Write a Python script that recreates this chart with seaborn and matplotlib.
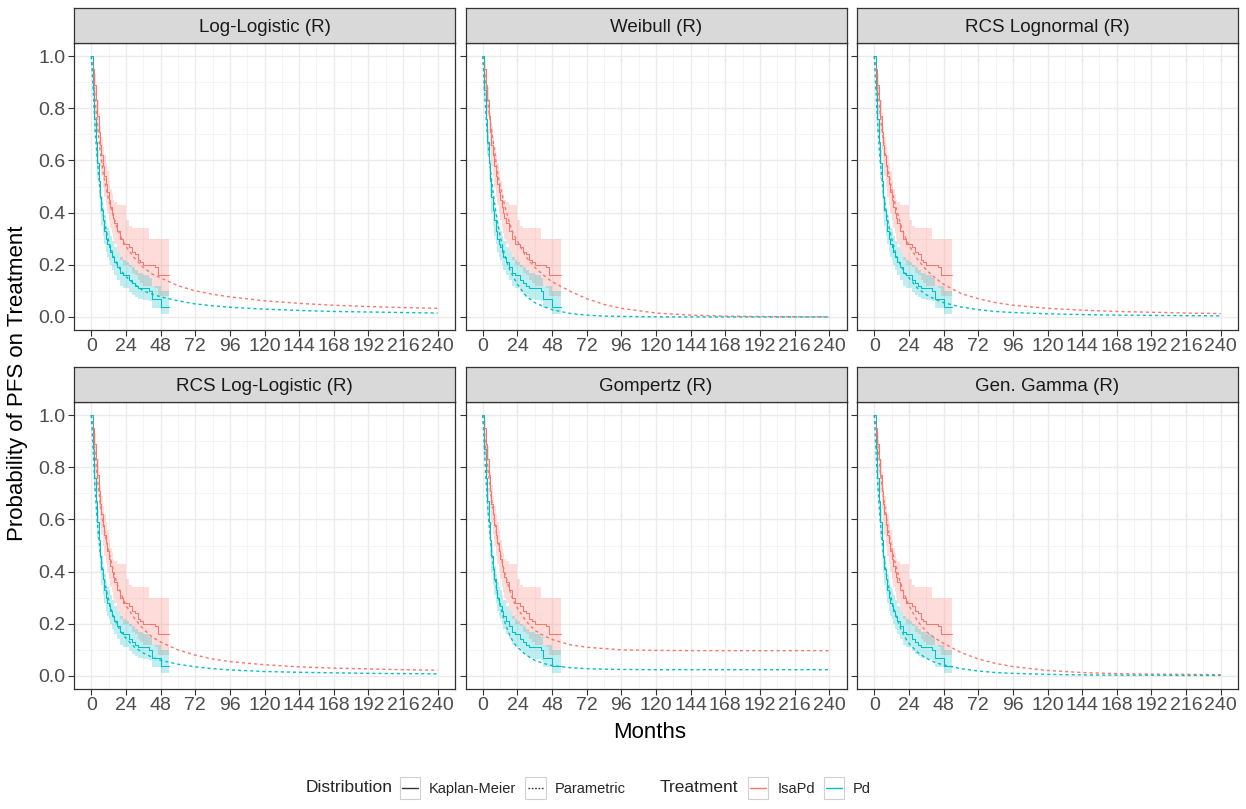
import numpy as np
import pandas as pd
import matplotlib
matplotlib.use("Agg")
import matplotlib.pyplot as plt
import seaborn as sns
from matplotlib.patches import Rectangle
from matplotlib.lines import Line2D
from matplotlib.legend_handler import HandlerBase

# ---------------- data ----------------
panel_titles = ["Log-Logistic (R)", "Weibull (R)", "RCS Lognormal (R)",
                "RCS Log-Logistic (R)", "Gompertz (R)", "Gen. Gamma (R)"]
treatments = ["IsaPd", "Pd"]
x_ticks = [0, 24, 48, 72, 96, 120, 144, 168, 192, 216, 240]
y_ticks = [0.0, 0.2, 0.4, 0.6, 0.8, 1.0]
y_tick_labels = ["0.0", "0.2", "0.4", "0.6", "0.8", "1.0"]

# Kaplan-Meier (same in every panel)
km_isapd_t = [0, 1, 2, 3, 4, 5, 6, 7, 8, 9, 10, 11, 12, 13, 14, 15, 16, 18, 20, 22,
              24, 26, 28, 30, 32, 34, 36, 40, 44, 46, 48, 54]
km_isapd_s = [1.00, 0.95, 0.89, 0.83, 0.77, 0.71, 0.66, 0.62, 0.58, 0.54, 0.51, 0.48, 0.45,
              0.42, 0.40, 0.38, 0.36, 0.33, 0.30, 0.28, 0.28, 0.27, 0.25, 0.24, 0.22, 0.21,
              0.20, 0.20, 0.19, 0.16, 0.16, 0.16]
km_isapd_lo = [1.00, 0.91, 0.84, 0.77, 0.70, 0.64, 0.58, 0.54, 0.50, 0.46, 0.43, 0.40, 0.37,
               0.34, 0.32, 0.30, 0.28, 0.25, 0.22, 0.20, 0.20, 0.19, 0.17, 0.16, 0.14, 0.13,
               0.12, 0.12, 0.11, 0.08, 0.08, 0.08]
km_isapd_hi = [1.00, 0.98, 0.93, 0.88, 0.83, 0.78, 0.73, 0.69, 0.65, 0.62, 0.59, 0.56, 0.52,
               0.49, 0.47, 0.45, 0.44, 0.43, 0.43, 0.43, 0.37, 0.35, 0.34, 0.34, 0.34, 0.34,
               0.34, 0.30, 0.30, 0.30, 0.30, 0.30]

km_pd_t = [0, 1, 2, 3, 4, 5, 6, 7, 8, 9, 10, 11, 12, 13, 14, 16, 18, 20, 22, 24, 26, 28,
           30, 32, 36, 40, 42, 46, 48, 54]
km_pd_s = [1.00, 0.87, 0.76, 0.67, 0.59, 0.52, 0.46, 0.41, 0.37, 0.33, 0.30, 0.28, 0.27,
           0.25, 0.23, 0.21, 0.19, 0.17, 0.16, 0.16, 0.14, 0.13, 0.12, 0.11, 0.11, 0.10,
           0.07, 0.07, 0.04, 0.04]
km_pd_lo = [1.00, 0.83, 0.71, 0.62, 0.53, 0.46, 0.40, 0.35, 0.31, 0.28, 0.25, 0.23, 0.22,
            0.20, 0.18, 0.16, 0.14, 0.12, 0.11, 0.11, 0.095, 0.085, 0.075, 0.07, 0.065,
            0.06, 0.035, 0.035, 0.01, 0.01]
km_pd_hi = [1.00, 0.91, 0.81, 0.72, 0.64, 0.57, 0.51, 0.46, 0.42, 0.39, 0.36, 0.34, 0.33,
            0.31, 0.29, 0.27, 0.25, 0.23, 0.22, 0.21, 0.20, 0.19, 0.18, 0.17, 0.16, 0.15,
            0.12, 0.12, 0.10, 0.10]

months = [0, 1, 2, 3, 4, 6, 8, 10, 12, 15, 18, 21, 24, 30, 36, 42, 48, 60, 72, 84, 96,
          120, 144, 168, 192, 216, 240]

loglogistic_isapd = [1, 0.95, 0.88, 0.81, 0.75, 0.64, 0.56, 0.50, 0.45, 0.39, 0.34, 0.30, 0.27,
                     0.225, 0.19, 0.165, 0.15, 0.12, 0.10, 0.087, 0.077, 0.062, 0.052, 0.045,
                     0.040, 0.036, 0.033]
loglogistic_pd = [1, 0.90, 0.79, 0.69, 0.61, 0.49, 0.40, 0.34, 0.29, 0.24, 0.20, 0.175, 0.155,
                  0.125, 0.10, 0.088, 0.077, 0.062, 0.050, 0.043, 0.037, 0.030, 0.025, 0.021,
                  0.019, 0.017, 0.015]

weibull_isapd = [1, 0.95, 0.90, 0.85, 0.80, 0.72, 0.64, 0.56, 0.50, 0.43, 0.37, 0.32, 0.29,
                 0.23, 0.19, 0.16, 0.135, 0.10, 0.07, 0.048, 0.033, 0.015, 0.007, 0.003,
                 0.0015, 0.0007, 0.0003]
weibull_pd = [1, 0.88, 0.79, 0.71, 0.64, 0.53, 0.44, 0.37, 0.31, 0.24, 0.19, 0.155, 0.125,
              0.08, 0.055, 0.04, 0.028, 0.014, 0.007, 0.0035, 0.002, 0.0005, 0.0002, 0.0001,
              0.0, 0.0, 0.0]

rcs_lognormal_isapd = [1, 0.96, 0.90, 0.84, 0.78, 0.69, 0.61, 0.55, 0.49, 0.42, 0.36, 0.31, 0.275,
                       0.22, 0.18, 0.15, 0.125, 0.09, 0.07, 0.055, 0.045, 0.033, 0.026, 0.021,
                       0.018, 0.015, 0.013]
rcs_lognormal_pd = [1, 0.88, 0.77, 0.68, 0.60, 0.49, 0.41, 0.35, 0.30, 0.24, 0.20, 0.17, 0.15,
                    0.11, 0.085, 0.068, 0.055, 0.038, 0.028, 0.021, 0.017, 0.012, 0.009, 0.007,
                    0.006, 0.005, 0.004]

rcs_loglogistic_isapd = [1, 0.95, 0.89, 0.83, 0.77, 0.67, 0.59, 0.53, 0.48, 0.41, 0.35, 0.31, 0.27,
                         0.22, 0.18, 0.15, 0.13, 0.10, 0.08, 0.065, 0.055, 0.043, 0.035, 0.030,
                         0.027, 0.024, 0.022]
rcs_loglogistic_pd = [1, 0.89, 0.78, 0.68, 0.60, 0.48, 0.40, 0.34, 0.29, 0.235, 0.195, 0.165,
                      0.145, 0.11, 0.088, 0.072, 0.060, 0.045, 0.035, 0.028, 0.023, 0.017, 0.014,
                      0.012, 0.010, 0.009, 0.008]

gompertz_isapd = [1, 0.94, 0.88, 0.82, 0.77, 0.68, 0.60, 0.53, 0.47, 0.40, 0.34, 0.29, 0.26,
                  0.21, 0.175, 0.155, 0.14, 0.12, 0.11, 0.105, 0.10, 0.098, 0.097, 0.097,
                  0.097, 0.097, 0.097]
gompertz_pd = [1, 0.88, 0.77, 0.68, 0.60, 0.48, 0.39, 0.32, 0.27, 0.21, 0.165, 0.13, 0.11,
               0.08, 0.06, 0.048, 0.040, 0.032, 0.028, 0.026, 0.025, 0.024, 0.024, 0.024,
               0.024, 0.024, 0.024]

gengamma_isapd = [1, 0.96, 0.91, 0.85, 0.79, 0.70, 0.62, 0.55, 0.49, 0.42, 0.36, 0.31, 0.27,
                  0.21, 0.17, 0.145, 0.125, 0.09, 0.065, 0.048, 0.036, 0.021, 0.013, 0.009,
                  0.007, 0.006, 0.005]
gengamma_pd = [1, 0.88, 0.77, 0.68, 0.60, 0.48, 0.40, 0.34, 0.29, 0.23, 0.185, 0.15, 0.125,
               0.09, 0.068, 0.052, 0.042, 0.028, 0.019, 0.013, 0.010, 0.006, 0.004, 0.003,
               0.003, 0.002, 0.002]

param_curves = [
    (loglogistic_isapd, loglogistic_pd),
    (weibull_isapd, weibull_pd),
    (rcs_lognormal_isapd, rcs_lognormal_pd),
    (rcs_loglogistic_isapd, rcs_loglogistic_pd),
    (gompertz_isapd, gompertz_pd),
    (gengamma_isapd, gengamma_pd),
]

# ---------------- styling ----------------
colors = {"IsaPd": "#F8766D", "Pd": "#00BFC4"}
sns.set_theme(style="white")
plt.rcParams["font.family"] = ["Liberation Sans", "DejaVu Sans"]

W, H = 1246, 809
fig = plt.figure(figsize=(W / 100, H / 100), dpi=100)

col_left = [74, 465.5, 857]
panel_w = 381
row_top = [43, 402]
panel_h = 287
strip_h = 35

km_frames = {
    "IsaPd": pd.DataFrame({"Months": km_isapd_t, "S": km_isapd_s, "lo": km_isapd_lo,
                           "hi": km_isapd_hi, "Treatment": "IsaPd"}),
    "Pd": pd.DataFrame({"Months": km_pd_t, "S": km_pd_s, "lo": km_pd_lo,
                        "hi": km_pd_hi, "Treatment": "Pd"}),
}
km_all = pd.concat(km_frames.values(), ignore_index=True)

for i, title in enumerate(panel_titles):
    r, c = divmod(i, 3)
    left = col_left[c] / W
    bottom = 1 - (row_top[r] + panel_h) / H
    ax = fig.add_axes([left, bottom, panel_w / W, panel_h / H])
    sax = fig.add_axes([left, 1 - row_top[r] / H, panel_w / W, strip_h / H])

    # KM step lines (drawn first, ribbons go over them as in ggplot)
    sns.lineplot(data=km_all, x="Months", y="S", hue="Treatment", palette=colors,
                 estimator=None, sort=False, drawstyle="steps-post", linewidth=0.75,
                 legend=False, ax=ax, zorder=2)
    # ribbons
    for tr in treatments:
        d = km_frames[tr]
        ax.fill_between(d["Months"], d["lo"], d["hi"], step="post",
                        color=colors[tr], alpha=0.25, linewidth=0, zorder=3)
    # parametric lines
    iso, pdv = param_curves[i]
    par_df = pd.concat([
        pd.DataFrame({"Months": months, "S": iso, "Treatment": "IsaPd"}),
        pd.DataFrame({"Months": months, "S": pdv, "Treatment": "Pd"}),
    ], ignore_index=True)
    n_before = len(ax.lines)
    sns.lineplot(data=par_df, x="Months", y="S", hue="Treatment", palette=colors,
                 estimator=None, sort=False, linewidth=1.0, legend=False, ax=ax, zorder=4)
    for ln in ax.lines[n_before:]:
        ln.set_dashes((2.2, 2.2))

    ax.set_xlim(-12, 252)
    ax.set_ylim(-0.05, 1.05)
    ax.set_xticks(x_ticks)
    ax.set_xticks([t + 12 for t in x_ticks[:-1]], minor=True)
    ax.set_yticks(y_ticks)
    ax.set_yticks([0.1, 0.3, 0.5, 0.7, 0.9], minor=True)
    ax.set_xticklabels([str(t) for t in x_ticks])
    if c == 0:
        ax.set_yticklabels(y_tick_labels)
    else:
        ax.set_yticklabels([])
    ax.grid(True, which="major", color="#EBEBEB", linewidth=1.0, zorder=0)
    ax.grid(True, which="minor", color="#F2F2F2", linewidth=0.6, zorder=0)
    ax.set_axisbelow(True)
    ax.tick_params(axis="both", which="major", direction="out", length=4, width=0.8,
                   color="#333333", labelcolor="#4D4D4D", labelsize=14, pad=2,
                   bottom=True, left=True)
    ax.tick_params(axis="both", which="minor", length=0)
    if c != 0:
        ax.tick_params(axis="y", which="major", left=True, labelleft=False)
    for s in ax.spines.values():
        s.set_edgecolor("#333333")
        s.set_linewidth(0.9)
    ax.set_xlabel("")
    ax.set_ylabel("")
    ax.set_facecolor("white")

    sax.set_facecolor("#D9D9D9")
    sax.set_xticks([])
    sax.set_yticks([])
    for s in sax.spines.values():
        s.set_edgecolor("#333333")
        s.set_linewidth(0.9)
    sax.text(0.5, 0.45, title, ha="center", va="center", fontsize=13.5, color="#1A1A1A",
             transform=sax.transAxes)

fig.text(650 / W, 1 - 733 / H, "Months", ha="center", va="center", fontsize=16,
         color="black")
fig.text(18 / W, 1 - 383 / H, "Probability of PFS on Treatment", ha="center", va="center",
         rotation=90, fontsize=16, color="black")


# ---------------- legends ----------------
class BoxLineHandler(HandlerBase):
    def create_artists(self, legend, orig_handle, xdescent, ydescent, width, height,
                       fontsize, trans):
        rect = Rectangle((-xdescent, -ydescent - 0.25 * height), width, height * 1.5,
                         facecolor="white", edgecolor="#D0D0D0", linewidth=0.8,
                         transform=trans)
        y = -ydescent + height / 2
        ln = Line2D([-xdescent + 0.12 * width, -xdescent + 0.88 * width], [y, y],
                    color=orig_handle.get_color(), linewidth=1.0, transform=trans)
        ls = orig_handle.get_linestyle()
        if ls not in ("-", "solid"):
            ln.set_dashes((1.2, 1.2))
        return [rect, ln]


km_h = Line2D([], [], color="#333333", linestyle="-")
par_h = Line2D([], [], color="#333333", linestyle=":")
iso_h = Line2D([], [], color=colors["IsaPd"], linestyle="-")
pd_h = Line2D([], [], color=colors["Pd"], linestyle="-")
hm = {Line2D: BoxLineHandler()}

leg_y = 1 - 788 / H
fig.text(306 / W, leg_y, "Distribution", ha="left", va="center", fontsize=12.5)
leg1 = fig.legend([km_h, par_h], ["Kaplan-Meier", "Parametric"], handler_map=hm,
                  ncol=2, frameon=False, loc="center left",
                  bbox_to_anchor=(400 / W, leg_y), fontsize=10.5, handlelength=1.4,
                  handleheight=1.2, handletextpad=0.6, columnspacing=0.6,
                  borderpad=0, borderaxespad=0)
fig.text(660 / W, leg_y, "Treatment", ha="left", va="center", fontsize=12.5)
leg2 = fig.legend([iso_h, pd_h], ["IsaPd", "Pd"], handler_map=hm,
                  ncol=2, frameon=False, loc="center left",
                  bbox_to_anchor=(748 / W, leg_y), fontsize=10.5, handlelength=1.4,
                  handleheight=1.2, handletextpad=0.6, columnspacing=0.6,
                  borderpad=0, borderaxespad=0)

fig.savefig("out.png", dpi=100, facecolor="white")
